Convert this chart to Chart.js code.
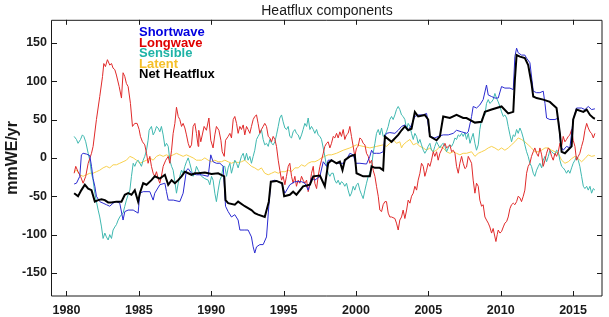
<!DOCTYPE html>
<html>
<head>
<meta charset="utf-8">
<title>Heatflux components</title>
<script src="https://cdn.jsdelivr.net/npm/chart.js@4.4.1/dist/chart.umd.min.js"></script>
<style>
  html, body { margin: 0; padding: 0; background: #fff; }
  #wrap { width: 609px; height: 317px; }
</style>
</head>
<body>
<div id="wrap"><canvas id="heat" width="609" height="317"></canvas></div>
<script>
// series labels and colours (legend text / line)
const seriesNames = ['Shortwave', 'Longwave', 'Sensible', 'Latent', 'Net Heatflux']
const textColors = ['#0000e0', '#e00000', '#1fb3a6', '#f5c02a', '#000000']
const lineColors = ['#2a2ad0', '#e02a2a', '#3fb8b0', '#f8d04c', '#000000']

const xTicks = [1980, 1985, 1990, 1995, 2000, 2005, 2010, 2015]
const yTicks = [-150, -100, -50, 0, 50, 100, 150]

// Shortwave
const swYears = [
    1980.53,1980.69,1980.92,1981.03,1981.15,1981.38,1981.61,1981.73,1981.84,1981.96,
    1982.07,1982.3,1982.53,1982.76,1982.99,1983.22,1983.45,1983.68,1983.91,1984.03,
    1984.26,1984.61,1984.95,1985.07,1985.3,1985.76,1985.99,1986.1,1986.45,1986.8,
    1986.91,1987.03,1987.38,1987.83,1988.06,1988.29,1988.41,1988.64,1988.98,1989.33,
    1989.79,1989.97,1990.13,1990.36,1990.6,1990.83,1990.99,1991.17,1991.4,1991.63,
    1991.86,1991.98,1992.32,1992.55,1992.78,1992.9,1993.01,1993.13,1993.36,1993.59,
    1993.82,1993.98,1994.12,1994.4,1994.86,1995.09,1995.43,1995.78,1996.24,1996.47,
    1996.7,1996.93,1997.16,1997.51,1997.74,1997.97,1998.08,1998.31,1998.66,1999.12,
    1999.35,1999.58,1999.81,1999.99,2000.27,2000.73,2000.96,2001.08,2001.2,2001.43,
    2001.65,2001.88,2002.0,2002.11,2002.34,2002.69,2002.92,2003.15,2003.38,2003.61,
    2003.84,2004.07,2004.3,2004.65,2004.88,2005.11,2005.45,2005.68,2006.03,2006.38,
    2006.72,2006.95,2007.3,2007.64,2007.76,2007.99,2008.1,2008.33,2008.56,2008.79,
    2009.02,2009.14,2009.37,2009.6,2009.83,2010.06,2010.29,2010.64,2010.87,2010.98,
    2011.1,2011.21,2011.44,2011.67,2011.79,2012.02,2012.25,2012.48,2012.71,2012.94,
    2013.06,2013.17,2013.4,2013.75,2013.98,2014.16,2014.32,2014.55,2014.78,2015.01,
    2015.24,2015.59,2015.82,2016.05,2016.28,2016.51
]
const swValues = [
    -34,-33,-24,4,6,5,3,-11,-27,-37,
    -50,-57,-59,-61,-63,-59,-57,-59,-81,-70,
    -68,-68,-72,-46,-44,-44,-55,-46,-35,-33,
    -44,-55,-55,-57,-46,-16,-14,-20,-22,-22,
    -24,4,-5,-7,-7,-11,-63,-70,-77,-74,
    -81,-94,-94,-94,-103,-116,-124,-116,-113,-113,
    -103,-63,-31,-29,-33,-46,-35,-31,-31,-33,
    -42,-26,-29,-24,-5,-11,-3,-3,-7,-7,
    -2,6,4,-7,-7,-8,2,10,6,6,
    6,8,28,32,33,32,36,41,43,36,
    43,54,56,56,58,28,26,28,30,30,
    32,36,34,32,34,54,67,65,69,76,
    95,82,80,78,78,93,91,91,89,132,
    143,137,134,134,130,124,87,85,85,87,
    71,52,50,50,52,15,10,15,13,50,
    65,65,63,67,63,64
]

// Longwave
const lwYears = [
    1980.53,1980.64,1980.8,1980.97,1981.15,1981.33,1981.5,1981.73,1981.84,1982.07,
    1982.3,1982.49,1982.58,1982.69,1982.83,1982.99,1983.11,1983.22,1983.34,1983.45,
    1983.64,1983.8,1983.91,1984.03,1984.14,1984.26,1984.42,1984.56,1984.72,1984.88,
    1985.02,1985.11,1985.25,1985.41,1985.53,1985.64,1985.76,1985.87,1985.99,1986.1,
    1986.22,1986.33,1986.45,1986.56,1986.68,1986.86,1987.03,1987.14,1987.26,1987.37,
    1987.49,1987.6,1987.72,1987.83,1987.95,1988.06,1988.18,1988.29,1988.41,1988.52,
    1988.64,1988.75,1988.87,1988.98,1989.1,1989.14,1989.28,1989.51,1989.67,1989.84,
    1989.97,1990.13,1990.25,1990.36,1990.53,1990.67,1990.76,1990.9,1990.99,1991.17,
    1991.29,1991.4,1991.52,1991.63,1991.75,1991.86,1991.98,1992.09,1992.21,1992.32,
    1992.44,1992.55,1992.67,1992.78,1992.9,1993.01,1993.13,1993.24,1993.36,1993.47,
    1993.59,1993.7,1993.82,1993.94,1994.05,1994.17,1994.28,1994.4,1994.51,1994.63,
    1994.74,1994.86,1994.97,1995.09,1995.2,1995.32,1995.43,1995.55,1995.66,1995.78,
    1995.89,1996.01,1996.12,1996.24,1996.35,1996.47,1996.59,1996.7,1996.82,1996.93,
    1997.05,1997.16,1997.28,1997.39,1997.51,1997.62,1997.74,1997.85,1997.97,1998.08,
    1998.2,1998.31,1998.43,1998.54,1998.66,1998.77,1998.89,1999.0,1999.12,1999.23,
    1999.35,1999.46,1999.58,1999.69,1999.81,1999.92,2000.04,2000.15,2000.27,2000.39,
    2000.5,2000.62,2000.73,2000.85,2000.96,2001.08,2001.19,2001.31,2001.42,2001.54,
    2001.65,2001.77,2001.88,2002.0,2002.11,2002.23,2002.34,2002.46,2002.69,2002.8,
    2002.92,2003.03,2003.15,2003.26,2003.38,2003.5,2003.61,2003.73,2003.84,2003.96,
    2004.07,2004.19,2004.3,2004.42,2004.53,2004.65,2004.76,2004.88,2004.99,2005.11,
    2005.22,2005.34,2005.45,2005.57,2005.68,2005.8,2006.03,2006.15,2006.26,2006.38,
    2006.49,2006.61,2006.72,2006.84,2006.95,2007.07,2007.18,2007.3,2007.41,2007.53,
    2007.64,2007.76,2007.99,2008.1,2008.22,2008.33,2008.45,2008.56,2008.68,2008.79,
    2008.91,2009.02,2009.14,2009.25,2009.37,2009.48,2009.6,2009.67,2009.76,2009.83,
    2009.95,2010.06,2010.18,2010.29,2010.41,2010.52,2010.64,2010.75,2010.87,2010.98,
    2011.1,2011.21,2011.33,2011.44,2011.56,2011.67,2011.79,2011.9,2012.02,2012.13,
    2012.25,2012.36,2012.48,2012.6,2012.71,2012.83,2012.94,2013.06,2013.17,2013.29,
    2013.4,2013.52,2013.63,2013.75,2013.86,2013.98,2014.09,2014.21,2014.32,2014.44,
    2014.55,2014.67,2014.78,2014.9,2015.01,2015.13,2015.24,2015.36,2015.47,2015.59,
    2015.71,2015.82,2015.94,2016.05,2016.17,2016.28,2016.4,2016.51
]
const lwValues = [
    -20,-11,-18,-24,-33,-24,-7,6,15,50,
    80,106,123,119,128,121,123,117,115,108,
    93,78,111,106,97,93,71,41,45,45,
    37,28,21,17,6,-7,2,-11,-20,-24,
    -18,-27,-33,-24,-11,-3,2,-7,10,32,
    45,66,54,50,41,45,39,30,19,13,
    17,41,45,32,15,36,21,41,36,52,
    23,13,30,41,36,23,8,2,23,28,
    32,26,50,54,45,32,41,37,43,30,
    41,37,32,41,50,54,56,45,32,37,
    41,45,41,28,26,21,28,24,15,-3,
    -16,-29,-24,-35,-24,-11,-7,-24,-33,-24,
    -37,-29,-33,-24,-29,-33,-29,-44,-35,-20,
    -11,-33,-40,-24,-11,-3,6,15,19,21,
    13,19,28,26,32,26,34,28,37,24,
    30,32,41,28,15,2,13,15,26,24,
    19,17,6,2,-7,-3,-16,-24,-37,-50,
    -68,-70,-61,-57,-57,-72,-77,-77,-79,-85,
    -94,-81,-77,-68,-79,-68,-55,-59,-50,-46,
    -37,-42,-29,-20,-7,-11,-24,-16,-7,-11,
    -3,8,2,8,-3,6,15,19,13,15,
    17,8,10,6,-11,-20,-7,2,-7,-14,
    -12,2,-7,-29,-46,-33,-37,-55,-63,-61,
    -77,-81,-85,-90,-98,-92,-103,-109,-100,-94,
    -98,-96,-90,-85,-83,-77,-66,-61,-59,-61,
    -57,-50,-52,-57,-50,-42,-20,-11,-7,2,
    8,13,6,2,13,4,-11,-3,6,13,
    10,2,-3,6,2,8,19,15,28,21,
    24,28,30,37,23,15,-3,2,6,15,
    23,36,45,39,34,32,26,32
]

// Sensible
const shYears = [
    1980.53,1980.69,1980.8,1980.97,1981.1,1981.2,1981.33,1981.5,1981.61,1981.73,
    1981.84,1981.96,1982.07,1982.19,1982.3,1982.42,1982.53,1982.65,1982.76,1982.88,
    1982.99,1983.11,1983.22,1983.34,1983.45,1983.57,1983.68,1983.8,1983.91,1984.03,
    1984.14,1984.26,1984.38,1984.49,1984.61,1984.72,1984.84,1984.95,1985.07,1985.18,
    1985.3,1985.41,1985.53,1985.64,1985.71,1985.87,1985.99,1986.1,1986.22,1986.33,
    1986.45,1986.56,1986.68,1986.8,1986.91,1987.03,1987.14,1987.26,1987.37,1987.49,
    1987.6,1987.72,1987.83,1987.95,1988.06,1988.18,1988.29,1988.41,1988.52,1988.64,
    1988.75,1988.87,1988.98,1989.1,1989.33,1989.56,1989.79,1989.9,1990.02,1990.13,
    1990.25,1990.36,1990.48,1990.6,1990.71,1990.83,1990.94,1991.06,1991.17,1991.29,
    1991.4,1991.52,1991.63,1991.75,1991.86,1991.98,1992.09,1992.21,1992.32,1992.44,
    1992.55,1992.67,1992.78,1992.9,1993.01,1993.13,1993.24,1993.36,1993.47,1993.59,
    1993.7,1993.82,1993.94,1994.05,1994.17,1994.28,1994.4,1994.51,1994.63,1994.74,
    1994.86,1994.97,1995.09,1995.2,1995.32,1995.43,1995.55,1995.66,1995.78,1995.89,
    1996.01,1996.12,1996.24,1996.35,1996.47,1996.59,1996.7,1996.82,1996.93,1997.05,
    1997.16,1997.28,1997.39,1997.51,1997.62,1997.74,1997.85,1997.97,1998.08,1998.2,
    1998.31,1998.43,1998.54,1998.66,1998.77,1998.89,1999.0,1999.12,1999.23,1999.35,
    1999.46,1999.58,1999.69,1999.81,1999.92,2000.04,2000.15,2000.27,2000.39,2000.5,
    2000.62,2000.73,2000.85,2000.96,2001.08,2001.19,2001.31,2001.42,2001.54,2001.65,
    2001.77,2001.88,2002.0,2002.11,2002.23,2002.34,2002.46,2002.57,2002.69,2002.8,
    2002.92,2003.03,2003.15,2003.26,2003.38,2003.5,2003.61,2003.73,2003.84,2003.96,
    2004.07,2004.19,2004.3,2004.42,2004.53,2004.65,2004.76,2004.88,2004.99,2005.11,
    2005.22,2005.34,2005.45,2005.57,2005.68,2005.8,2005.91,2006.03,2006.15,2006.26,
    2006.38,2006.49,2006.61,2006.72,2006.84,2006.95,2007.07,2007.18,2007.3,2007.41,
    2007.53,2007.64,2007.76,2007.88,2007.99,2008.1,2008.22,2008.33,2008.45,2008.56,
    2008.68,2008.79,2008.91,2009.02,2009.14,2009.25,2009.37,2009.48,2009.6,2009.71,
    2009.83,2009.95,2010.06,2010.18,2010.29,2010.41,2010.52,2010.64,2010.75,2010.87,
    2010.98,2011.1,2011.21,2011.33,2011.44,2011.56,2011.67,2011.79,2011.9,2012.02,
    2012.13,2012.25,2012.36,2012.48,2012.6,2012.71,2012.83,2012.94,2013.06,2013.17,
    2013.29,2013.4,2013.52,2013.63,2013.75,2013.86,2013.98,2014.09,2014.21,2014.32,
    2014.44,2014.55,2014.67,2014.78,2014.9,2015.01,2015.13,2015.24,2015.36,2015.47,
    2015.59,2015.71,2015.82,2015.94,2016.05,2016.17,2016.28,2016.4,2016.51
]
const shValues = [
    28,24,19,24,30,28,21,6,-3,-20,
    -29,-46,-57,-68,-77,-90,-105,-98,-103,-107,
    -100,-105,-94,-90,-87,-81,-77,-74,-72,-63,
    -55,-48,-42,-24,-7,-11,-5,-3,-7,-11,
    -3,2,10,23,36,41,30,34,41,39,
    34,41,30,15,19,15,-3,-11,-16,-31,
    -46,-33,-24,-16,-20,-11,-5,0,-7,-16,
    -24,-20,-11,-16,-24,-27,-29,-35,-24,-29,
    -46,-57,-42,-29,-24,-11,-11,-24,-13,-7,
    -20,-11,-3,-7,-13,-5,2,6,-3,6,
    -3,2,-7,2,10,24,28,32,37,24,
    17,19,15,24,19,17,21,30,41,52,
    56,47,39,37,41,28,26,34,37,32,
    30,24,30,37,45,41,52,37,41,37,
    32,37,30,28,24,13,2,-11,-20,-24,
    -20,-20,-29,-33,-29,-35,-31,-33,-37,-33,
    -42,-50,-46,-37,-42,-35,-33,-42,-48,-53,
    -42,-33,-24,-20,-11,6,19,32,37,30,
    39,28,30,34,41,50,54,50,56,63,
    67,63,56,54,50,37,45,41,32,24,
    32,28,19,24,17,10,6,10,15,19,
    10,8,15,21,17,13,17,19,15,8,
    13,17,15,19,26,24,30,28,32,28,
    33,24,32,19,26,32,19,10,17,37,
    50,54,56,71,76,71,73,76,84,78,
    73,67,60,54,56,52,41,30,21,30,
    28,37,32,39,34,26,17,8,2,-7,
    -11,-20,-24,-16,-11,-7,-13,-3,2,-5,
    2,10,8,6,4,10,8,-3,-11,-13,
    -16,-20,-16,-20,-13,-7,-3,2,-3,-11,
    -24,-37,-40,-37,-42,-37,-46,-40,-42
]

// Latent
const ltYears = [
    1980.53,1980.69,1980.92,1981.15,1981.38,1981.61,1981.84,1982.07,1982.3,1982.53,
    1982.76,1982.99,1983.22,1983.45,1983.68,1983.91,1984.14,1984.38,1984.61,1984.84,
    1985.07,1985.3,1985.53,1985.76,1985.99,1986.22,1986.45,1986.68,1986.91,1987.14,
    1987.37,1987.6,1987.83,1988.06,1988.29,1988.52,1988.75,1988.98,1989.1,1989.33,
    1989.56,1989.79,1990.02,1990.25,1990.48,1990.71,1990.94,1991.17,1991.4,1991.63,
    1991.86,1992.09,1992.32,1992.55,1992.78,1993.01,1993.24,1993.47,1993.7,1993.94,
    1994.17,1994.4,1994.63,1994.86,1995.09,1995.32,1995.55,1995.78,1996.01,1996.24,
    1996.47,1996.7,1996.93,1997.16,1997.39,1997.62,1997.85,1998.08,1998.31,1998.66,
    1999.12,1999.58,2000.04,2000.5,2000.96,2001.42,2001.88,2002.11,2002.34,2002.57,
    2002.8,2003.03,2003.15,2003.26,2003.5,2003.73,2003.96,2004.19,2004.42,2004.65,
    2004.88,2005.11,2005.34,2005.57,2005.8,2006.03,2006.26,2006.49,2006.72,2006.95,
    2007.18,2007.41,2007.64,2007.99,2008.22,2008.45,2008.68,2008.91,2009.14,2009.37,
    2009.6,2009.83,2010.06,2010.29,2010.52,2010.75,2010.98,2011.21,2011.44,2011.67,
    2011.9,2012.13,2012.36,2012.6,2012.83,2013.06,2013.29,2013.52,2013.75,2013.98,
    2014.21,2014.44,2014.67,2014.9,2015.13,2015.36,2015.59,2015.82,2016.05,2016.28,
    2016.51
]
const ltValues = [
    -18,-16,-22,-24,-22,-20,-20,-18,-16,-13,
    -11,-13,-9,-9,-7,-5,-3,2,0,-3,
    -7,-5,-3,0,-3,2,4,2,4,2,
    4,6,4,2,4,2,0,-3,-3,-3,
    0,-3,-5,-3,-5,-5,-3,-5,-7,-5,
    -6,-5,-3,-7,-11,-13,-16,-13,-20,-22,
    -20,-18,-20,-18,-18,-16,-18,-13,-13,-9,
    -11,-7,-5,-5,-3,0,2,4,4,6,
    10,13,17,15,13,15,17,15,19,24,
    19,21,13,17,21,24,17,19,15,13,
    10,13,8,10,15,13,8,6,8,6,
    4,6,6,8,2,6,8,10,13,15,
    13,10,13,10,13,17,21,26,24,21,
    17,13,8,8,10,13,13,10,8,6,
    -3,-7,-5,-1,2,-1,-5,-1,4,2,
    3
]

// Net Heatflux
const netYears = [
    1980.53,1980.8,1981.03,1981.27,1981.5,1981.73,1981.96,1982.19,1982.42,1982.65,
    1982.88,1983.1,1983.45,1983.8,1984.03,1984.26,1984.49,1984.72,1984.95,1985.07,
    1985.3,1985.53,1985.87,1986.1,1986.45,1986.8,1987.03,1987.26,1987.49,1987.72,
    1987.95,1988.18,1988.41,1988.64,1988.87,1989.1,1989.56,1990.02,1990.48,1990.9,
    1990.99,1991.17,1991.63,1991.86,1992.32,1992.78,1993.01,1993.24,1993.7,1993.98,
    1994.12,1994.51,1994.9,1995.04,1995.43,1995.66,1995.89,1996.35,1996.82,1997.05,
    1997.51,1997.85,1998.08,1998.31,1998.66,1998.89,1999.07,1999.23,1999.58,1999.92,
    2000.04,2000.5,2000.96,2001.08,2001.31,2001.65,2001.88,2002.0,2002.46,2002.92,
    2003.15,2003.38,2003.61,2003.84,2004.07,2004.3,2004.76,2004.99,2005.11,2005.57,
    2005.8,2006.03,2006.49,2006.95,2007.41,2007.64,2008.22,2008.68,2008.91,2009.37,
    2010.06,2010.52,2010.87,2010.98,2011.1,2011.33,2011.67,2011.9,2012.13,2012.25,
    2012.48,2012.94,2013.4,2013.63,2013.86,2014.09,2014.21,2014.44,2014.9,2015.01,
    2015.24,2015.71,2015.94,2016.17,2016.4,2016.51
]
const netValues = [
    -46,-50,-42,-35,-40,-42,-57,-55,-54,-55,
    -58,-58,-57,-57,-48,-46,-48,-42,-57,-46,
    -33,-35,-29,-24,-27,-22,-35,-29,-33,-29,
    -24,-18,-20,-22,-20,-20,-19,-21,-20,-24,
    -55,-59,-61,-57,-63,-68,-72,-74,-77,-57,
    -31,-30,-33,-50,-48,-44,-48,-37,-35,-24,
    -23,-37,-7,-3,-7,-5,-16,-3,2,4,
    -20,-24,-24,-11,-13,-13,-16,28,21,30,
    36,41,36,38,60,54,56,50,28,23,
    28,54,52,56,52,52,46,47,60,63,
    67,58,60,102,134,132,130,121,97,80,
    78,76,73,69,65,32,8,6,15,50,
    63,60,63,56,52,51
]

const font = '"Liberation Sans", Arial, sans-serif'

function pts(xs, ys) {
    return xs.map((x, i) => ({ x: x, y: ys[i] }))
}

const allYears = [swYears, lwYears, shYears, ltYears, netYears]
const allValues = [swValues, lwValues, shValues, ltValues, netValues]

const datasets = seriesNames.map((name, i) => ({
    label: name,
    data: pts(allYears[i], allValues[i]),
    borderColor: lineColors[i],
    borderWidth: i === 4 ? 2 : 1,
    pointRadius: 0,
    tension: 0,
    fill: false,
    order: i === 4 ? 0 : i + 1
}))

// box, inward ticks and the text legend
const boxPlugin = {
    id: 'boxPlugin',
    afterDatasetsDraw(chart) {
        const { ctx, chartArea: a, scales } = chart
        ctx.save()
        ctx.strokeStyle = '#1a1a1a'
        ctx.lineWidth = 1
        ctx.beginPath()
        ctx.rect(a.left - 0.5, a.top + 0.5, a.right - a.left + 0.5, a.bottom - a.top - 0.5)
        xTicks.forEach(v => {
            const px = Math.round(scales.x.getPixelForValue(v)) + 0.5
            ctx.moveTo(px, a.bottom); ctx.lineTo(px, a.bottom - 5)
            ctx.moveTo(px, a.top); ctx.lineTo(px, a.top + 5)
        })
        yTicks.forEach(v => {
            const py = Math.round(scales.y.getPixelForValue(v)) + 0.5
            ctx.moveTo(a.left, py); ctx.lineTo(a.left + 5, py)
            ctx.moveTo(a.right, py); ctx.lineTo(a.right - 5, py)
        })
        ctx.stroke()

        ctx.font = 'bold 13px ' + font
        ctx.textBaseline = 'alphabetic'
        ctx.textAlign = 'left'
        seriesNames.forEach((name, i) => {
            ctx.fillStyle = textColors[i]
            ctx.fillText(name, 139, 36 + i * 10.5)
        })
        ctx.restore()
    }
}

new Chart(document.getElementById('heat'), {
    type: 'line',
    data: { datasets: datasets },
    options: {
        responsive: false,
        animation: false,
        layout: { padding: { left: 0, right: 7, top: 0, bottom: 0 } },
        scales: {
            x: {
                type: 'linear',
                min: 1979,
                max: 2017,
                afterBuildTicks: s => { s.ticks = xTicks.map(v => ({ value: v })) },
                afterFit: s => { s.height = 21 },
                grid: { display: false, drawTicks: false },
                border: { display: false },
                ticks: {
                    color: '#1a1a1a',
                    padding: 7,
                    maxRotation: 0,
                    font: { family: font, size: 12.5, weight: 'bold' },
                    callback: v => String(v)
                }
            },
            y: {
                type: 'linear',
                min: -180,
                max: 180,
                afterBuildTicks: s => { s.ticks = yTicks.map(v => ({ value: v })) },
                afterFit: s => { s.width = 52 },
                grid: { display: false, drawTicks: false },
                border: { display: false },
                ticks: {
                    color: '#1a1a1a',
                    padding: 5,
                    font: { family: font, size: 12.5, weight: 'bold' },
                    callback: v => String(v)
                },
                title: {
                    display: true,
                    text: 'mmWE/yr',
                    color: '#1a1a1a',
                    padding: { top: 3, bottom: 0 },
                    font: { family: font, size: 16, weight: 'bold' }
                }
            }
        },
        plugins: {
            legend: { display: false },
            tooltip: { enabled: false },
            title: {
                display: true,
                fullSize: false,
                text: 'Heatflux components',
                color: '#1a1a1a',
                padding: { top: 3, bottom: 0 },
                font: { family: font, size: 14, weight: 'normal' }
            }
        }
    },
    plugins: [boxPlugin]
})
</script>
</body>
</html>
